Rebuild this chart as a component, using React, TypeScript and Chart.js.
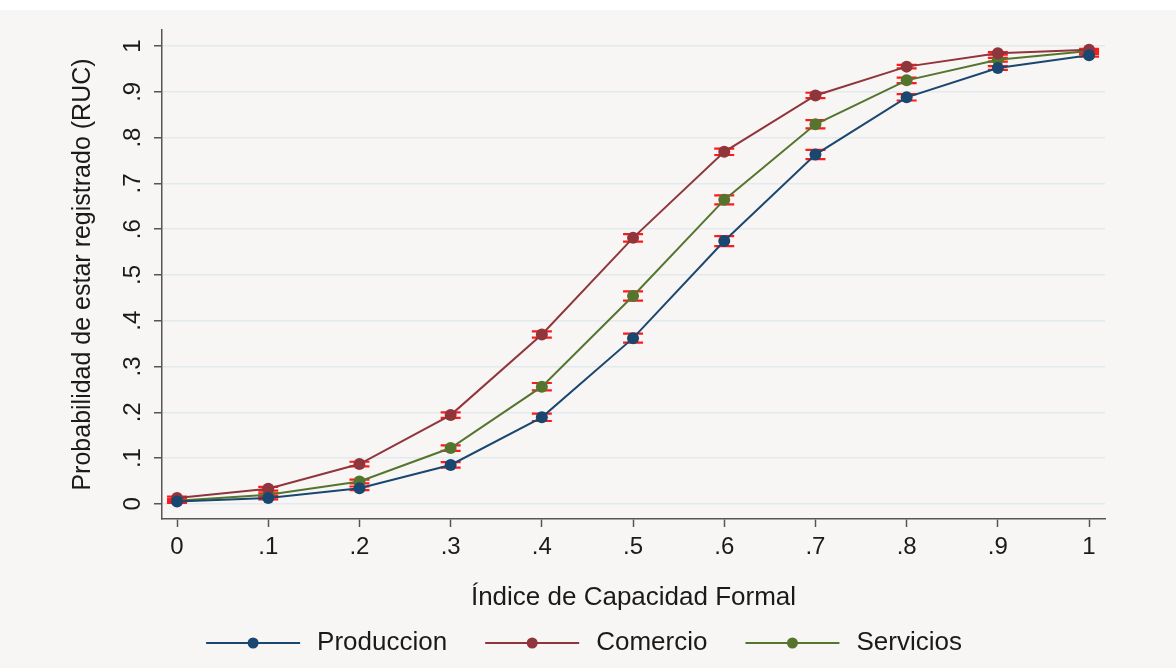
import React, { useEffect, useRef } from "react";
import { Chart, registerables } from "chart.js";

Chart.register(...registerables);

const xValues = [0, 0.1, 0.2, 0.3, 0.4, 0.5, 0.6, 0.7, 0.8, 0.9, 1];
const seriesNames = ["Produccion", "Comercio", "Servicios"];
const produccion = [0.005, 0.013, 0.034, 0.085, 0.189, 0.362, 0.574, 0.763, 0.888, 0.952, 0.98];
const comercio = [0.013, 0.033, 0.087, 0.194, 0.37, 0.581, 0.769, 0.892, 0.955, 0.984, 0.992];
const servicios = [0.007, 0.02, 0.049, 0.122, 0.256, 0.454, 0.664, 0.829, 0.925, 0.97, 0.989];
const produccionCI = [0.003, 0.003, 0.004, 0.006, 0.008, 0.01, 0.011, 0.01, 0.007, 0.004, 0.003];
const comercioCI = [0.003, 0.004, 0.005, 0.006, 0.007, 0.008, 0.007, 0.006, 0.004, 0.003, 0.002];
const serviciosCI = [0.003, 0.003, 0.004, 0.006, 0.008, 0.01, 0.01, 0.009, 0.006, 0.004, 0.002];
const xTicks = [0, 0.1, 0.2, 0.3, 0.4, 0.5, 0.6, 0.7, 0.8, 0.9, 1];
const xTickLabels = ["0", ".1", ".2", ".3", ".4", ".5", ".6", ".7", ".8", ".9", "1"];
const yTicks = [0, 0.1, 0.2, 0.3, 0.4, 0.5, 0.6, 0.7, 0.8, 0.9, 1];
const yTickLabels = ["0", ".1", ".2", ".3", ".4", ".5", ".6", ".7", ".8", ".9", "1"];
const xTitle = "Índice de Capacidad Formal";
const yTitle = "Probabilidad de estar registrado (RUC)";

const colors = ["#1a476f", "#90353b", "#55752f"];
const FONT = "'Liberation Sans', Arial, sans-serif";
const TEXT = "#1a1a1a";
const AXIS = "#555555";

export default function App() {
  const ref = useRef<HTMLCanvasElement>(null);

  useEffect(() => {
    if (!ref.current) return;
    const values = [produccion, comercio, servicios];
    const cis = [produccionCI, comercioCI, serviciosCI];

    const bgPlugin = {
      id: "bg",
      beforeDraw(chart: any) {
        const { ctx, width, height } = chart;
        ctx.save();
        ctx.fillStyle = "#ffffff";
        ctx.fillRect(0, 0, width, height);
        ctx.fillStyle = "#f7f6f4";
        ctx.fillRect(0, 10, width, height - 10);
        ctx.restore();
      },
    };

    const errPlugin = {
      id: "errbars",
      beforeDatasetsDraw(chart: any) {
        const { ctx } = chart;
        const xs = chart.scales.x;
        const ys = chart.scales.y;
        ctx.save();
        ctx.strokeStyle = "#ff1a1a";
        ctx.lineWidth = 2.2;
        cis.forEach((ci, s) => {
          values[s].forEach((v, i) => {
            const px = xs.getPixelForValue(xValues[i]);
            const lo = ys.getPixelForValue(v - ci[i]);
            const hi = ys.getPixelForValue(v + ci[i]);
            ctx.beginPath();
            ctx.moveTo(px, lo);
            ctx.lineTo(px, hi);
            ctx.moveTo(px - 10, lo);
            ctx.lineTo(px + 10, lo);
            ctx.moveTo(px - 10, hi);
            ctx.lineTo(px + 10, hi);
            ctx.stroke();
          });
        });
        ctx.restore();
      },
    };

    const textPlugin = {
      id: "texts",
      afterDraw(chart: any) {
        const { ctx } = chart;
        const ys = chart.scales.y;
        ctx.save();
        ctx.fillStyle = TEXT;
        ctx.font = `24px ${FONT}`;
        ctx.textAlign = "center";
        ctx.textBaseline = "middle";
        yTicks.forEach((v, i) => {
          const py = ys.getPixelForValue(v);
          ctx.save();
          ctx.translate(133, py);
          ctx.rotate(-Math.PI / 2);
          ctx.fillText(yTickLabels[i], 0, 0);
          ctx.restore();
        });
        // legend
        const lineLen = 94;
        const gapText = 17;
        const gapItem = 38;
        ctx.font = `26px ${FONT}`;
        const widths = seriesNames.map((n) => lineLen + gapText + ctx.measureText(n).width);
        const total = widths.reduce((a, b) => a + b, 0) + gapItem * (seriesNames.length - 1);
        let x = 584 - total / 2;
        const y = 643;
        seriesNames.forEach((n, i) => {
          ctx.strokeStyle = colors[i];
          ctx.lineWidth = 2;
          ctx.beginPath();
          ctx.moveTo(x, y);
          ctx.lineTo(x + lineLen, y);
          ctx.stroke();
          ctx.fillStyle = colors[i];
          ctx.beginPath();
          ctx.arc(x + lineLen / 2, y, 5.5, 0, Math.PI * 2);
          ctx.fill();
          ctx.fillStyle = TEXT;
          ctx.textAlign = "left";
          ctx.fillText(n, x + lineLen + gapText, y);
          x += widths[i] + gapItem;
        });
        ctx.restore();
      },
    };

    const chart = new Chart(ref.current, {
      type: "line",
      data: {
        datasets: seriesNames.map((name, s) => ({
          label: name,
          data: xValues.map((x, i) => ({ x, y: values[s][i] })),
          borderColor: colors[s],
          backgroundColor: colors[s],
          pointBackgroundColor: colors[s],
          pointBorderColor: colors[s],
          pointRadius: 6,
          pointBorderWidth: 0,
          borderWidth: 2,
          tension: 0,
          fill: false,
        })),
      },
      options: {
        animation: false,
        responsive: false,
        devicePixelRatio: 1,
        layout: { padding: { left: 15, top: 30, right: 71, bottom: 0 } },
        plugins: { legend: { display: false }, tooltip: { enabled: false } },
        scales: {
          x: {
            type: "linear",
            min: -0.0165,
            max: 1.0175,
            afterBuildTicks: (scale: any) => {
              scale.ticks = xTicks.map((v) => ({ value: v }));
            },
            afterFit: (scale: any) => {
              scale.height = 149;
            },
            grid: {
              drawOnChartArea: false,
              drawTicks: true,
              tickLength: 8,
              tickColor: AXIS,
              tickWidth: 1.5,
            },
            border: { color: AXIS, width: 1.5 },
            ticks: {
              padding: 6,
              color: TEXT,
              font: { family: FONT, size: 24 },
              maxRotation: 0,
              minRotation: 0,
              autoSkip: false,
              callback: (_v: any, i: number) => xTickLabels[i],
            },
            title: {
              display: true,
              text: xTitle,
              color: TEXT,
              font: { family: FONT, size: 26 },
              padding: { top: 0, bottom: 55 },
            },
          },
          y: {
            type: "linear",
            min: -0.033,
            max: 1.035,
            afterBuildTicks: (scale: any) => {
              scale.ticks = yTicks.map((v) => ({ value: v }));
            },
            afterFit: (scale: any) => {
              scale.width = 147;
            },
            grid: {
              color: "#e3eaeb",
              lineWidth: 1.5,
              drawTicks: true,
              tickLength: 8,
              tickColor: AXIS,
              tickWidth: 1.5,
            },
            border: { color: AXIS, width: 1.5 },
            ticks: { display: false },
            title: {
              display: true,
              text: yTitle,
              color: TEXT,
              font: { family: FONT, size: 25 },
              padding: { top: 53, bottom: 0 },
            },
          },
        },
      },
      plugins: [bgPlugin, errPlugin, textPlugin],
    } as any);

    return () => chart.destroy();
  }, []);

  return (
    <div style={{ position: "fixed", left: 0, top: 0, width: 1176, height: 668 }}>
      <canvas ref={ref} width={1176} height={668} style={{ display: "block" }} />
    </div>
  );
}
